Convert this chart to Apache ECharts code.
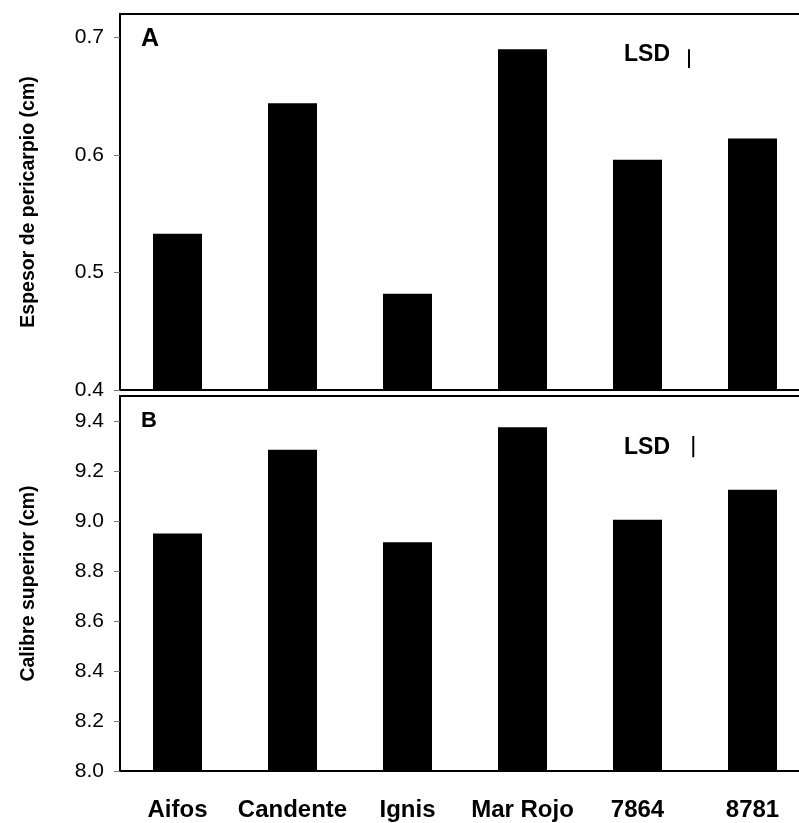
<!DOCTYPE html>
<html><head><meta charset="utf-8">
<script src="https://cdn.jsdelivr.net/npm/echarts@6/dist/echarts.min.js"></script>
<style>html,body{margin:0;padding:0;background:#fff;overflow:hidden}#c{width:812px;height:823px}</style>
</head><body><div id="c"></div>
<script>
const categories = ['Aifos', 'Candente', 'Ignis', 'Mar Rojo', '7864', '8781'];
const pericarpio = [0.533, 0.644, 0.482, 0.690, 0.596, 0.614];
const calibre = [8.95, 9.285, 8.915, 9.375, 9.005, 9.125];
const lsdA = [[4.448, 0.674], [4.448, 0.690]];
const lsdB = [[4.485, 9.255], [4.485, 9.34]];
const yTitleA = 'Espesor de pericarpio (cm)';
const yTitleB = 'Calibre superior (cm)';

const chart = echarts.init(document.getElementById('c'), null, {renderer: 'canvas'});
const FF = '"Liberation Sans", Arial, sans-serif';
const grids = [
  {left: 120, top: 14, width: 690, height: 376, show: true, borderColor: '#000', borderWidth: 2, backgroundColor: 'transparent'},
  {left: 120, top: 396, width: 690, height: 375, show: true, borderColor: '#000', borderWidth: 2, backgroundColor: 'transparent'}
];
function catAxis(i, showLabels) {
  return {type: 'category', gridIndex: i, data: categories,
    axisLine: {onZero: false, lineStyle: {color: '#000', width: 2}},
    axisTick: {show: false},
    axisLabel: {show: showLabels, interval: 0, color: '#000', fontFamily: FF, fontWeight: 'bold', fontSize: 24, margin: 27},
    splitLine: {show: false}};
}
function valXAxis(i) {
  return {type: 'value', gridIndex: i, min: -0.5, max: 5.5, show: false, splitLine: {show: false}};
}
function yAxis(i, min, max, interval, name) {
  return {type: 'value', gridIndex: i, min: min, max: max, interval: interval,
    name: name, nameLocation: 'middle', nameGap: 81,
    nameTextStyle: {color: '#000', fontFamily: FF, fontWeight: 'bold', fontSize: 19.5},
    axisLine: {show: true, onZero: false, lineStyle: {color: '#000', width: 2}},
    axisTick: {show: true, length: 6, lineStyle: {color: '#777', width: 1}},
    axisLabel: {color: '#000', fontFamily: FF, fontSize: 21, margin: 16, showMaxLabel: false,
      formatter: v => v.toFixed(1)},
    splitLine: {show: false}};
}
chart.setOption({
  animation: false,
  grid: grids,
  xAxis: [catAxis(0, false), catAxis(1, true), valXAxis(0), valXAxis(1)],
  yAxis: [yAxis(0, 0.4, 0.72, 0.1, yTitleA), yAxis(1, 8.0, 9.5, 0.2, yTitleB)],
  series: [
    {type: 'bar', xAxisIndex: 0, yAxisIndex: 0, data: pericarpio, barWidth: 49, itemStyle: {color: '#000'}},
    {type: 'bar', xAxisIndex: 1, yAxisIndex: 1, data: calibre, barWidth: 49, itemStyle: {color: '#000'}},
    {type: 'line', xAxisIndex: 2, yAxisIndex: 0, data: lsdA, symbol: 'none', lineStyle: {color: '#000', width: 2}},
    {type: 'line', xAxisIndex: 3, yAxisIndex: 1, data: lsdB, symbol: 'none', lineStyle: {color: '#000', width: 2}}
  ],
  graphic: [
    {type: 'text', left: 141, top: 27, style: {text: 'A', font: 'bold 25px ' + FF, fill: '#000'}},
    {type: 'text', left: 141, top: 410, style: {text: 'B', font: 'bold 22px ' + FF, fill: '#000'}},
    {type: 'text', left: 624, top: 43.5, style: {text: 'LSD', font: 'bold 23px ' + FF, fill: '#000'}},
    {type: 'text', left: 624, top: 436, style: {text: 'LSD', font: 'bold 23px ' + FF, fill: '#000'}}
  ]
});
</script></body></html>
